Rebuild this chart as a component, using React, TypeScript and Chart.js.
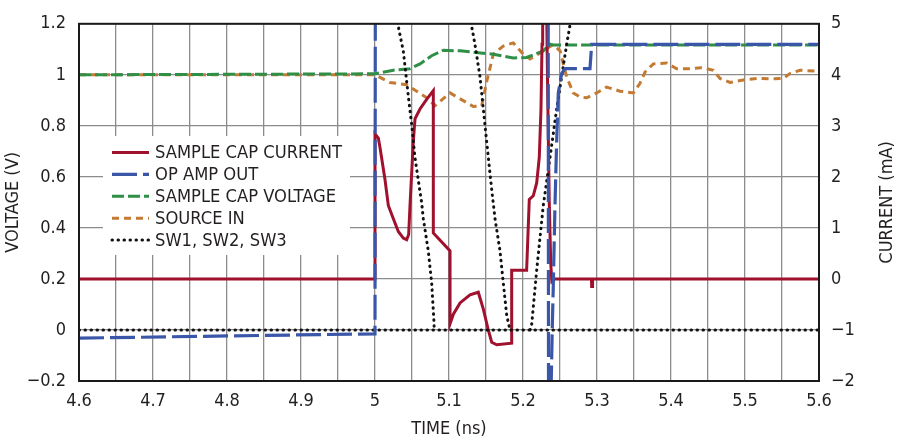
import { useEffect, useRef } from "react"
import { Chart, registerables } from "chart.js"

Chart.register(...registerables)

const FONT = "'Liberation Sans Narrow', 'Arial Narrow', 'DejaVu Sans Condensed', sans-serif"
const TEXT = "#231f20"

// axis tick labels
const timeLabels = ["4.6", "4.7", "4.8", "4.9", "5", "5.1", "5.2", "5.3", "5.4", "5.5", "5.6"]
const voltTicks = [-0.2, 0, 0.2, 0.4, 0.6, 0.8, 1, 1.2]
const voltLabels = ["\u22120.2", "0", "0.2", "0.4", "0.6", "0.8", "1", "1.2"]
const currentLabels = ["\u22122", "\u22121", "0", "1", "2", "3", "4", "5"]

// SAMPLE CAP CURRENT (mA, right axis)
const capCurrentTime = [
  4.6, 5.0, 5.0, 5.0045, 5.0068, 5.0135, 5.018, 5.0248, 5.0315, 5.0382, 5.0428, 5.0455, 5.0473,
  5.0518, 5.0541, 5.0608, 5.0698, 5.0788, 5.0788, 5.1014, 5.1014, 5.1059, 5.1149, 5.1284, 5.1396,
  5.1464, 5.1531, 5.1577, 5.1645, 5.1847, 5.1847, 5.2049, 5.2085, 5.2139, 5.2185, 5.222, 5.2243,
  5.2257, 5.2266, 5.229, 5.2315, 5.2335, 5.2355, 5.2375, 5.239, 5.243, 5.2925, 5.2928, 5.2935,
  5.294, 5.6,
]
const capCurrent = [
  0, 0, 2.84, 2.76, 2.57, 1.95, 1.44, 1.18, 0.93, 0.8, 0.77, 0.87, 1.44,
  2.7, 3.14, 3.33, 3.52, 3.69, 0.9, 0.55, -0.88, -0.69, -0.47, -0.31, -0.26,
  -0.59, -1.0, -1.24, -1.29, -1.26, 0.17, 0.17, 1.56, 1.63, 1.88, 2.38, 3.33,
  4.6, 4.98, 5.8, 5.8, 3.5, 1.5, 0.3, -0.05, 0, 0, -0.15, -0.15,
  0, 0,
]

// OP AMP OUT (V)
const opAmpTime = [
  4.6, 5.0, 5.0005, 5.234, 5.2345, 5.2375, 5.2395, 5.2409, 5.2432, 5.2455, 5.2477, 5.2522, 5.2568,
  5.2905, 5.2928, 5.6,
]
const opAmpOut = [
  -0.032, -0.015, 1.5, 1.5, -0.3, -0.3, 0.0, 0.171, 0.487, 0.74, 0.929, 1.005, 1.024,
  1.024, 1.119, 1.119,
]

// SAMPLE CAP VOLTAGE (V)
const capVoltTime = [
  4.6, 5.0, 5.0248, 5.0473, 5.0608, 5.0766, 5.0923, 5.1149, 5.1599, 5.1869, 5.2049, 5.2274, 5.2365,
  5.2405, 5.6,
]
const capVolt = [
  1.0, 1.004, 1.018, 1.024, 1.043, 1.075, 1.096, 1.094, 1.081, 1.066, 1.068, 1.094, 1.12,
  1.117, 1.117,
]

// SOURCE IN (V)
const sourceTime = [
  4.6, 5.0, 5.0203, 5.0428, 5.0698, 5.0811, 5.1014, 5.1328, 5.1442, 5.151, 5.1599, 5.1734, 5.1869,
  5.2004, 5.2095, 5.2274, 5.2409, 5.25, 5.259, 5.268, 5.277, 5.2861, 5.2996, 5.313, 5.3311, 5.349,
  5.3581, 5.3649, 5.3761, 5.3942, 5.4077, 5.4257, 5.4415, 5.4572, 5.4662, 5.4797, 5.4977, 5.5158,
  5.5338, 5.5518, 5.5608, 5.5743, 5.6,
]
const sourceIn = [
  1.0, 1.0, 0.97, 0.961, 0.91, 0.879, 0.929, 0.876, 0.879, 0.974, 1.081, 1.113, 1.125,
  1.081, 1.062, 1.094, 1.119, 1.094, 0.992, 0.929, 0.913, 0.91, 0.929, 0.952, 0.936, 0.929,
  0.967, 1.011, 1.043, 1.046, 1.024, 1.024, 1.028, 1.018, 0.986, 0.97, 0.98, 0.986,
  0.984, 0.986, 1.005, 1.018, 1.014,
]

// SW1, SW2, SW3 (V) — null breaks the trace between switches
const switchTime = [
  4.6, 5.6, 5.6,
  5.028, 5.0315, 5.0382, 5.045, 5.0496, 5.054, 5.063, 5.0653, 5.072, 5.0766, 5.0797, 5.08, 5.08,
  5.128, 5.1307, 5.1351, 5.1419, 5.1486, 5.1554, 5.1577, 5.1622, 5.1689, 5.1734, 5.178, 5.1824, 5.1824,
  5.2095, 5.2117, 5.2185, 5.2274, 5.2365, 5.2455, 5.2522, 5.259, 5.2635, 5.2662,
]
const switchVolt = [
  0, 0, null,
  1.3, 1.189, 1.094, 0.917, 0.803, 0.676, 0.499, 0.436, 0.31, 0.183, 0.031, 0, null,
  1.3, 1.189, 1.119, 0.992, 0.803, 0.613, 0.55, 0.436, 0.31, 0.183, 0.057, 0, null,
  0, 0.02, 0.234, 0.487, 0.676, 0.866, 0.992, 1.119, 1.195, 1.3,
]

const zip = (xs: number[], ys: (number | null)[]) => xs.map((x, i) => ({ x, y: ys[i] }))

const series = [
  { label: "SAMPLE CAP CURRENT", color: "#a0112e", dash: [] as number[], width: 3, cap: "butt" },
  { label: "OP AMP OUT", color: "#3a56a8", dash: [25, 6], width: 3.2, cap: "butt" },
  { label: "SAMPLE CAP VOLTAGE", color: "#2f8f47", dash: [12, 4], width: 3, cap: "butt" },
  { label: "SOURCE IN", color: "#c47a33", dash: [7, 5], width: 3, cap: "butt" },
  { label: "SW1, SW2, SW3", color: "#111111", dash: [0.5, 5.5], width: 3, cap: "round" },
]

const overlay = {
  id: "overlay",
  afterDatasetsDraw(chart: Chart) {
    const { ctx, chartArea: a } = chart
    ctx.save()
    ctx.setLineDash([])
    ctx.strokeStyle = "#1a1a1a"
    ctx.lineWidth = 2
    ctx.strokeRect(a.left, a.top, a.right - a.left, a.bottom - a.top)

    // legend box inside the plot
    ctx.fillStyle = "#ffffff"
    ctx.fillRect(a.left + 24, 136, 247, 119)
    ctx.font = `18.2px ${FONT}`
    ctx.textBaseline = "middle"
    ctx.textAlign = "left"
    series.forEach((s, i) => {
      const y = 152.5 + i * 21.9
      ctx.beginPath()
      ctx.setLineDash(s.dash)
      ctx.lineCap = s.cap as CanvasLineCap
      ctx.strokeStyle = s.color
      ctx.lineWidth = s.width
      ctx.moveTo(a.left + 33, y)
      ctx.lineTo(a.left + 70, y)
      ctx.stroke()
      ctx.fillStyle = TEXT
      ctx.fillText(s.label, a.left + 76, y + 1)
    })

    // right axis title reads bottom-to-top
    ctx.translate(887, (a.top + a.bottom) / 2)
    ctx.rotate(-Math.PI / 2)
    ctx.textAlign = "center"
    ctx.font = `18px ${FONT}`
    ctx.fillStyle = TEXT
    ctx.fillText("CURRENT (mA)", 0, 0)
    ctx.restore()
  },
}

const App = () => {
  const chartRef = useRef<HTMLCanvasElement>(null)
  const chartInstance = useRef<Chart | null>(null)

  useEffect(() => {
    if (!chartRef.current) return
    if (chartInstance.current) chartInstance.current.destroy()

    const ctx = chartRef.current.getContext("2d")
    if (!ctx) return

    const data = [
      zip(capCurrentTime, capCurrent),
      zip(opAmpTime, opAmpOut),
      zip(capVoltTime, capVolt),
      zip(sourceTime, sourceIn),
      zip(switchTime, switchVolt),
    ]
    // draw order: op amp on top, then switches, current, cap voltage, source
    const order = [2, 0, 3, 4, 1]

    const gridColor = "#8c8c8c"

    chartInstance.current = new Chart(ctx, {
      type: "line",
      data: {
        datasets: series.map((s, i) => ({
          label: s.label,
          data: data[i],
          yAxisID: i === 0 ? "y1" : "y",
          borderColor: s.color,
          borderWidth: s.width,
          borderDash: s.dash,
          borderCapStyle: s.cap as CanvasLineCap,
          pointRadius: 0,
          tension: 0,
          spanGaps: false,
          order: order[i],
        })),
      },
      options: {
        responsive: true,
        maintainAspectRatio: false,
        animation: false,
        events: [],
        layout: { padding: { top: 12, left: 0, right: 0, bottom: 0 } },
        plugins: {
          legend: { display: false },
          tooltip: { enabled: false },
        },
        scales: {
          x: {
            type: "linear",
            min: 4.6,
            max: 5.6,
            afterBuildTicks: (scale) => {
              scale.ticks = Array.from({ length: 21 }, (_, i) => ({ value: 4.6 + i * 0.05 }))
            },
            afterFit: (scale) => {
              scale.height = 63
            },
            ticks: {
              autoSkip: false,
              maxRotation: 0,
              padding: 10,
              color: TEXT,
              font: { family: FONT, size: 18 },
              callback: (_v, i) => (i % 2 === 0 ? timeLabels[i / 2] : ""),
            },
            grid: { color: gridColor, lineWidth: 1.3, drawTicks: false },
            border: { display: false },
            title: {
              display: true,
              text: "TIME (ns)",
              color: TEXT,
              font: { family: FONT, size: 18 },
              padding: { top: 0, bottom: 4 },
            },
          },
          y: {
            type: "linear",
            position: "left",
            min: -0.2,
            max: 1.2,
            afterBuildTicks: (scale) => {
              scale.ticks = voltTicks.map((value) => ({ value }))
            },
            afterFit: (scale) => {
              scale.width = 79
            },
            ticks: {
              padding: 13,
              color: TEXT,
              font: { family: FONT, size: 18 },
              callback: (_v, i) => voltLabels[i],
            },
            grid: { color: gridColor, lineWidth: 1.3, drawTicks: false },
            border: { display: false },
            title: {
              display: true,
              text: "VOLTAGE (V)",
              color: TEXT,
              font: { family: FONT, size: 18 },
              padding: { top: 3, bottom: 0 },
            },
          },
          y1: {
            type: "linear",
            position: "right",
            min: -2,
            max: 5,
            afterFit: (scale) => {
              scale.width = 81
            },
            ticks: {
              stepSize: 1,
              padding: 12,
              color: TEXT,
              font: { family: FONT, size: 18 },
              callback: (_v, i) => currentLabels[i],
            },
            grid: { display: false, drawTicks: false },
            border: { display: false },
          },
        },
      },
      plugins: [overlay],
    })

    return () => {
      if (chartInstance.current) {
        chartInstance.current.destroy()
        chartInstance.current = null
      }
    }
  }, [])

  return (
    <div style={{ position: "absolute", left: 0, top: 0, width: 900, height: 444, background: "#fff" }}>
      <canvas ref={chartRef}></canvas>
    </div>
  )
}

export default App
